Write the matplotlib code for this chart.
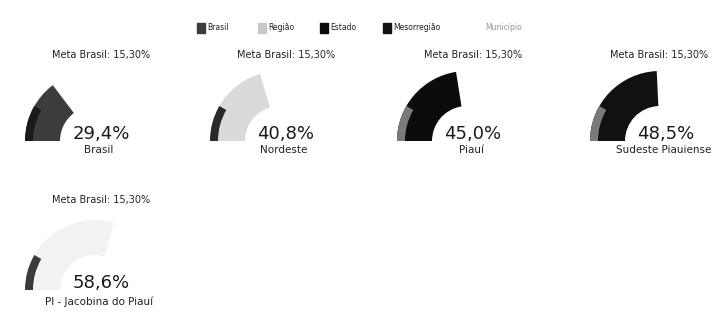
import matplotlib
matplotlib.use('Agg')
import matplotlib.pyplot as plt
from matplotlib.patches import Wedge, Rectangle

# dados
locais = ['Brasil', 'Nordeste', 'Piauí', 'Sudeste Piauiense', 'PI - Jacobina do Piauí']
valores = [29.4, 40.8, 45.0, 48.5, 58.6]
niveis = ['Brasil', 'Região', 'Estado', 'Mesorregião', 'Município']
meta = 'Meta Brasil: 15,30%'

cores = {'Brasil': '#3c3c3c', 'Região': '#dadada', 'Estado': '#0c0c0c',
         'Mesorregião': '#111111', 'Município': '#f2f2f2'}
bordas = {'Brasil': '#1a1a1a', 'Região': '#2a2a2a', 'Estado': '#7a7a7a',
          'Mesorregião': '#7a7a7a', 'Município': '#3a3a3a'}

W, H = 713, 312
fig = plt.figure(figsize=(W / 100, H / 100), dpi=100)
ax = fig.add_axes([0, 0, 1, 1])
ax.set_xlim(0, W)
ax.set_ylim(0, H)
ax.axis('off')

#=========================================================#
# legenda
leg_x = [197, 258, 320, 383, 485]
for nome, x in zip(niveis, leg_x):
    if nome != 'Município':
        cor = cores[nome] if nome != 'Região' else '#c8c8c8'
        ax.add_patch(Rectangle((x, H - 33), 8, 10, color=cor))
        ax.text(x + 10, H - 28, nome, fontsize=5.5, va='center', color='#222222')
    else:
        ax.text(x, H - 28, nome, fontsize=5.5, va='center', color='#999999')

#=========================================================#
# gauges
centros = [(95, 171), (280, 171), (467, 171), (660, 171), (95, 22)]
R, larg = 70, 35
for i, (loc, v, niv) in enumerate(zip(locais, valores, niveis)):
    cx, cy = centros[i]
    ax.add_patch(Wedge((cx, cy), R, 180 - 180 * v / 100, 180, width=larg,
                       color=cores[niv], lw=0))
    # faixa escura na borda externa
    ax.add_patch(Wedge((cx, cy), R, 150, 180, width=8, color=bordas[niv], lw=0))
    dy_meta = 86 if cy > 100 else 90
    ax.text(min(cx + 6, W - 54), cy + dy_meta, meta, fontsize=7, ha='center',
            va='center', color='#222222')
    ax.text(cx + 6, cy + 7, ('%.1f' % v).replace('.', ',') + '%',
            fontsize=13, ha='center', va='center', color='#1a1a1a')
    dy_lab = -9 if cy > 100 else -12
    ax.text(cx + 4, cy + dy_lab, loc, fontsize=7.5, ha='center', va='center', color='#222222')

fig.savefig('out.png', dpi=100)
